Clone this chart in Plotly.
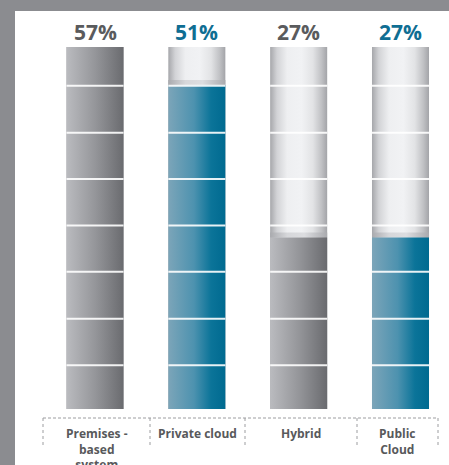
import plotly.graph_objects as go

# ---- data ----
categories = ["Premises -<br>based<br>system", "Private cloud", "Hybrid", "Public<br>Cloud"]
values = [57, 51, 27, 27]
pct_labels = ["57%", "51%", "27%", "27%"]
scale_max = 57
dividers = [6.9, 14.2, 21.6, 28.9, 36.2, 43.5, 50.9]

# ---- style ----
W, H = 449, 465
kinds = ["gray", "blue", "gray", "blue"]
fill_scales = {
    "gray": [[0, "#babbbf"], [0.5, "#95969a"], [1, "#6a6b6f"]],
    "blue": [[0, "#7ca5b9"], [0.45, "#4d92af"], [0.75, "#0b7499"], [1, "#006a90"]],
}
text_colors = {"gray": "#5a5b5d", "blue": "#0f6e93"}
empty_scale = [[0, "#a6a7ab"], [0.12, "#d2d3d6"], [0.3, "#eeeff1"], [0.55, "#f1f2f4"],
               [0.75, "#e2e3e5"], [0.9, "#c0c1c4"], [1, "#a3a4a8"]]
cap_scale = [[0, "#a9aaae"], [0.3, "#d6d7da"], [0.6, "#dcdde0"], [1, "#a9aaae"]]
half = 0.28
cap_h = 0.8

# pixel mapping helpers for layout geometry
px_per_unit_x = 101.83
x_left = -95 / px_per_unit_x
x_right = 3 + (W - 400.5) / px_per_unit_x
px_per_unit_y = 362 / scale_max
y_top = scale_max + 47 / px_per_unit_y
y_bot = -(H - 409) / px_per_unit_y

fig = go.Figure()
xs = list(range(len(categories)))

# empty cylinders
for x in xs:
    fig.add_trace(go.Scatter(
        x=[x - half, x + half, x + half, x - half, x - half],
        y=[0, 0, scale_max, scale_max, 0],
        mode="lines", line=dict(width=0), fill="toself",
        fillgradient=dict(type="horizontal", colorscale=empty_scale),
        hoverinfo="skip", showlegend=False))

# cap band just above the fill level (only when not full)
for x, v in zip(xs, values):
    if v < scale_max:
        top = min(v + cap_h, scale_max)
        fig.add_trace(go.Scatter(
            x=[x - half, x + half, x + half, x - half, x - half],
            y=[v, v, top, top, v],
            mode="lines", line=dict(width=0), fill="toself",
            fillgradient=dict(type="horizontal", colorscale=cap_scale),
            hoverinfo="skip", showlegend=False))

# filled portions
for x, v, k in zip(xs, values, kinds):
    fig.add_trace(go.Scatter(
        x=[x - half, x + half, x + half, x - half, x - half],
        y=[0, 0, v, v, 0],
        mode="lines", line=dict(width=0), fill="toself",
        fillgradient=dict(type="horizontal", colorscale=fill_scales[k]),
        hoverinfo="skip", showlegend=False))

# divider lines
dx, dy = [], []
for x in xs:
    for d in dividers:
        dx += [x - half, x + half, None]
        dy += [d, d, None]
fig.add_trace(go.Scatter(x=dx, y=dy, mode="lines",
                         line=dict(color="rgba(255,255,255,0.9)", width=2),
                         hoverinfo="skip", showlegend=False))

annotations = []
for x, t, k in zip(xs, pct_labels, kinds):
    annotations.append(dict(
        x=x, y=1 - 32 / H, xref="x", yref="paper", text=f"<b>{t}</b>",
        showarrow=False, yanchor="middle", xanchor="center",
        font=dict(family="Open Sans", size=21, color=text_colors[k])))

box_edges = [43, 150, 245, 357, 438]
for i, c in enumerate(categories):
    cx = (box_edges[i] + box_edges[i + 1]) / 2
    annotations.append(dict(
        x=cx / W, y=1 - 423 / H, xref="paper", yref="paper", text=f"<b>{c}</b>",
        showarrow=False, yanchor="top", xanchor="center",
        font=dict(family="Open Sans", size=12, color="#58595b")))

shapes = [
    dict(type="rect", xref="paper", yref="paper", x0=0, x1=15 / W, y0=0, y1=1,
         fillcolor="#8b8c90", line=dict(width=0), layer="below"),
    dict(type="rect", xref="paper", yref="paper", x0=0, x1=1, y0=1 - 11 / H, y1=1,
         fillcolor="#8b8c90", line=dict(width=0), layer="below"),
    dict(type="line", xref="paper", yref="paper", x0=box_edges[0] / W, x1=box_edges[-1] / W,
         y0=1 - 418 / H, y1=1 - 418 / H,
         line=dict(color="#9c9da0", width=1, dash="3px,2px")),
]
for e in box_edges:
    shapes.append(dict(type="line", xref="paper", yref="paper", x0=e / W, x1=e / W,
                       y0=1 - 418 / H, y1=1 - 445 / H,
                       line=dict(color="#9c9da0", width=1, dash="3px,3px")))

fig.update_layout(
    width=W, height=H, margin=dict(l=0, r=0, t=0, b=0),
    paper_bgcolor="white", plot_bgcolor="rgba(0,0,0,0)",
    xaxis=dict(range=[x_left, x_right], visible=False, fixedrange=True),
    yaxis=dict(range=[y_bot, y_top], visible=False, fixedrange=True),
    annotations=annotations, shapes=shapes, showlegend=False,
)

fig.write_html("out.html", config={"displayModeBar": False},
               post_script=["document.body.style.margin='0';document.body.style.overflow='hidden';"
                            "document.documentElement.style.overflow='hidden';"])
